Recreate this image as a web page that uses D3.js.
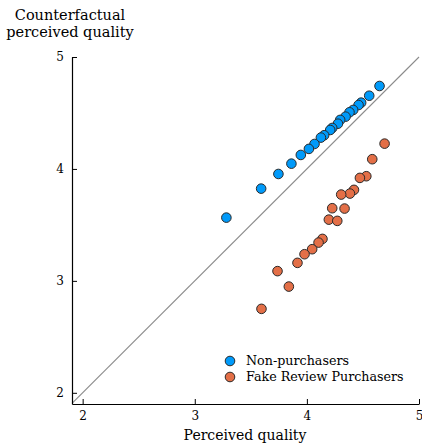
<!DOCTYPE html>
<html><head><meta charset="utf-8">
<script src="https://cdn.jsdelivr.net/npm/d3@7"></script>
<style>
html,body{margin:0;padding:0;background:#fff;}
text{font-family:"DejaVu Serif",serif;fill:#000;}
</style></head>
<body>
<svg id="c" width="422" height="444"></svg>
<script>
const seriesNames = ["Non-purchasers", "Fake Review Purchasers"];
const seriesColors = ["#009AFA", "#E36F47"];
const nonX = [4.648,4.556,4.484,4.461,4.413,4.380,4.345,4.297,4.277,4.226,4.208,4.154,4.125,4.068,4.018,3.946,3.862,3.746,3.592,3.282];
const nonY = [4.741,4.654,4.592,4.571,4.527,4.506,4.467,4.438,4.404,4.366,4.348,4.301,4.280,4.223,4.179,4.125,4.047,3.955,3.824,3.565];
const fakeX = [4.693,4.583,4.530,4.473,4.420,4.384,4.306,4.226,4.336,4.196,4.271,4.139,4.104,4.047,3.979,3.916,3.738,3.839,3.595];
const fakeY = [4.226,4.087,3.935,3.920,3.813,3.780,3.771,3.649,3.646,3.547,3.536,3.375,3.342,3.283,3.238,3.161,3.087,2.949,2.750];
const xTicks = [2,3,4,5];
const yTicks = [2,3,4,5];
const xDomain = [1.905, 5];
const yDomain = [1.9, 5];

const svg = d3.select("#c");
const x = d3.scaleLinear().domain(xDomain).range([72, 419]);
const y = d3.scaleLinear().domain(yDomain).range([404, 57]);

// diagonal y = x
const d0 = Math.max(xDomain[0], yDomain[0]);
svg.append("line")
  .attr("x1", x(d0)).attr("y1", y(d0))
  .attr("x2", x(5)).attr("y2", y(5))
  .attr("stroke", "#8c8c8c").attr("stroke-width", 1.1);

// axes
const xAxis = d3.axisBottom(x).tickValues(xTicks).tickSize(0).tickPadding(7).tickFormat(d3.format("d"));
const gx = svg.append("g").attr("transform", "translate(0,404)").call(xAxis);
gx.attr("font-family", null).attr("font-size", null);
gx.select(".domain").attr("stroke", "#000").attr("stroke-width", 1.2);
gx.selectAll(".tick text").style("font-size", "12px").style("font-family", "DejaVu Serif, serif").attr("fill", "#222");
gx.selectAll(".tick").append("line").attr("y1", 0).attr("y2", -5).attr("stroke", "#000");

const yAxis = d3.axisLeft(y).tickValues(yTicks).tickSize(0).tickPadding(8).tickFormat(d3.format("d"));
const gy = svg.append("g").attr("transform", "translate(72,0)").call(yAxis);
gy.attr("font-family", null).attr("font-size", null);
gy.select(".domain").attr("stroke", "#000").attr("stroke-width", 1.2);
gy.selectAll(".tick text").style("font-size", "12px").style("font-family", "DejaVu Serif, serif").attr("fill", "#222");
gy.selectAll(".tick").append("line").attr("x1", 0).attr("x2", 5).attr("stroke", "#000");

// points
const series = [
  {name: seriesNames[0], color: seriesColors[0], pts: nonX.map((v,i)=>[v, nonY[i]])},
  {name: seriesNames[1], color: seriesColors[1], pts: fakeX.map((v,i)=>[v, fakeY[i]])}
];
series.forEach(s => {
  svg.append("g").selectAll("circle").data(s.pts).join("circle")
    .attr("cx", d => x(d[0])).attr("cy", d => y(d[1])).attr("r", 4.8)
    .attr("fill", s.color).attr("stroke", "#2a2a2a").attr("stroke-width", 1);
});

// legend
const lg = svg.append("g").attr("transform", "translate(230,361)");
series.forEach((s, i) => {
  const row = lg.append("g").attr("transform", `translate(0,${i*16})`);
  row.append("circle").attr("r", 4.8).attr("fill", s.color).attr("stroke", "#2a2a2a").attr("stroke-width", 1);
  row.append("text").attr("x", 16).attr("dy", "0.35em").style("font-size", "12.7px").text(s.name);
});

// titles
svg.append("text").attr("x", 70).attr("y", 20).attr("text-anchor", "middle").style("font-size", "14.5px").text("Counterfactual");
svg.append("text").attr("x", 70).attr("y", 37).attr("text-anchor", "middle").style("font-size", "14.5px").text("perceived quality");
svg.append("text").attr("x", 245).attr("y", 440).attr("text-anchor", "middle").style("font-size", "14px").text("Perceived quality");
</script>
</body></html>
